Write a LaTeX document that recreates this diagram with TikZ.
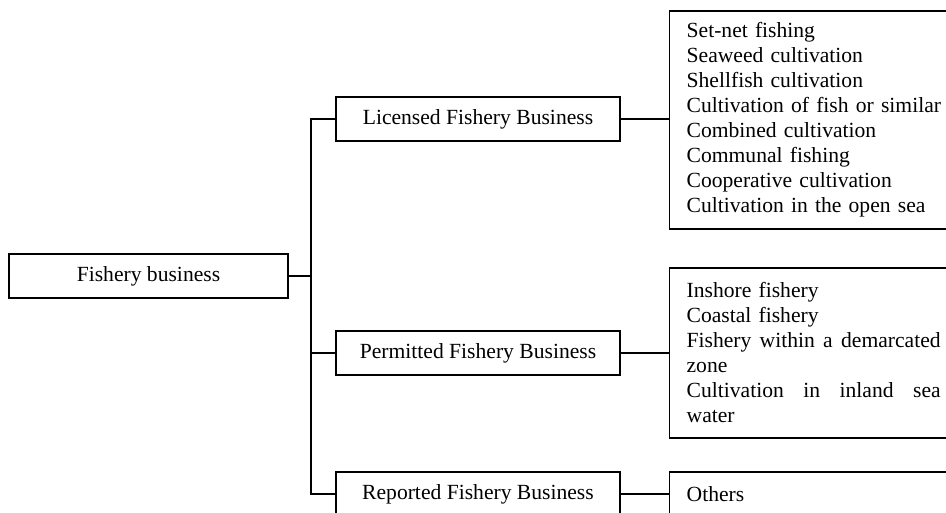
\documentclass[tikz,border=0pt]{standalone}
\usepackage{fontspec}
\setmainfont{Liberation Serif}
\begin{document}
\begin{tikzpicture}[x=1pt,y=-1pt,
  box/.style={draw, line width=1.3pt, inner sep=0pt, font=\fontsize{21.6}{25}\selectfont},
  midbox/.style={box, minimum width=284pt, minimum height=44pt},
  listbox/.style={box, anchor=west, text width=262pt, inner xsep=17pt, align=left, minimum width=296pt},
  link/.style={line width=1.3pt}]
\useasboundingbox (0,0) rectangle (946,513);
\clip (0,0) rectangle (946,513);
\fill[white] (0,0) rectangle (946,513);
\node[box, minimum width=279pt, minimum height=44pt] (fb) at (148.5,276) {Fishery business};
\node[midbox] (lic) at (478,119) {Licensed Fishery Business};
\node[midbox] (perm) at (478,353) {Permitted Fishery Business};
\node[midbox] (rep) at (478,494) {Reported Fishery Business};
\node[listbox, minimum height=218pt] (l1) at (669,120) {Set-net fishing\\Seaweed cultivation\\Shellfish cultivation\\Cultivation of fish or similar\\Combined cultivation\\Communal fishing\\Cooperative cultivation\\Cultivation in the open sea};
\node[listbox, minimum height=170pt] (l2) at (669,353) {Inshore fishery\\Coastal fishery\\\makebox[254pt][l]{Fishery\hfill within\hfill a\hfill demarcated}\\zone\\\makebox[254pt][l]{Cultivation\hfill in\hfill inland\hfill sea}\\water};
\node[listbox, minimum height=44pt] (l3) at (669,494) {Others};
\coordinate (tk) at (311,0);
\draw[link] (fb.east) -- (fb.east -| tk);
\draw[link] (lic.west) -- (lic.west -| tk) -- (rep.west -| tk) -- (rep.west);
\draw[link] (perm.west) -- (perm.west -| tk);
\draw[link] (lic.east) -- (lic.east -| l1.west);
\draw[link] (perm.east) -- (perm.east -| l2.west);
\draw[link] (rep.east) -- (rep.east -| l3.west);
\end{tikzpicture}
\end{document}
